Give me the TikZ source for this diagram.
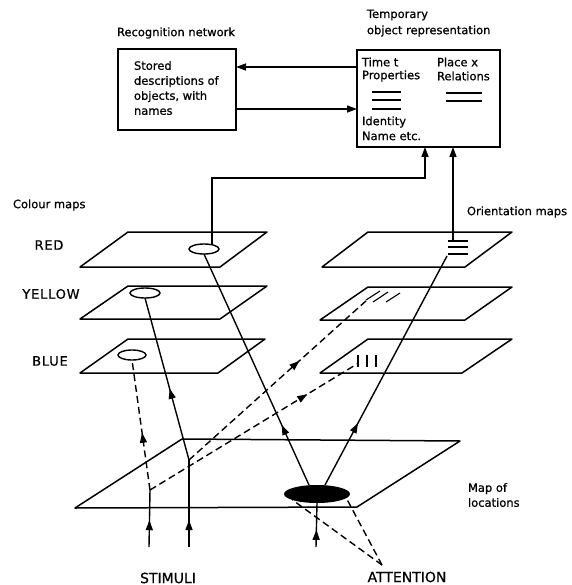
\documentclass[tikz,border=0pt]{standalone}
\usepackage{fontspec}
\setmainfont{DejaVu Sans}[FakeBold=0.7]
\usetikzlibrary{arrows.meta,shapes.geometric,decorations.markings}
\begin{document}
\begin{tikzpicture}[x=1pt,y=-1pt,
  every node/.style={inner sep=0pt, outer sep=0pt},
  txt/.style={font=\fontsize{11.5}{15}\selectfont, anchor=west},
  capsl/.style={font=\fontsize{13}{15}\selectfont\addfontfeatures{LetterSpace=6}},
  bigcaps/.style={font=\fontsize{14}{16}\selectfont},
  frame/.style={draw, line width=1.7pt},
  pl/.style={draw, line width=1.5pt, line join=round},
  conn/.style={line width=1.4pt},
  tip/.style={-{Triangle[length=10pt,width=7pt]}},
  dashline/.style={dash pattern=on 7pt off 4pt},
  midarr/.style={postaction={decorate, decoration={markings,
     mark=at position #1 with {\arrow{Triangle[length=10pt,width=7pt]}}}}},
  spot/.style={ellipse, draw, line width=1.4pt, minimum width=30pt, minimum height=10pt},
  tick/.style={line width=1.1pt}
]
\useasboundingbox (0,0) rectangle (571,585);

% ---------- boxes ----------
\node[txt] (recl) at (117,33) {Recognition network};
\node[frame, minimum width=118pt, minimum height=81pt] (rec) at (177,89.5) {};
\node[txt, align=left] (rect) at (134,88) {Stored\\descriptions of\\objects, with\\names};

\node[txt] (tmpl1) at (367,15) {Temporary};
\node[txt] (tmpl2) at (367,31) {object representation};
\node[frame, minimum width=143pt, minimum height=97pt] (temp) at (428.5,98.5) {};
\node[txt] (t1) at (362,62) {Time t};
\node[txt] (t2) at (362,76) {Properties};
\node[txt] (t3) at (437,62) {Place x};
\node[txt] (t4) at (437,76) {Relations};
\node[txt] (t5) at (362,122) {Identity};
\node[txt] (t6) at (362,136) {Name etc.};
\draw[tick] (372,92) -- (401,92) (372,100) -- (401,100) (372,109) -- (401,109);
\draw[tick] (446,93) -- (482,93) (446,101) -- (482,101);

\coordinate (ya) at (0,67);
\coordinate (yb) at (0,109);
\draw[conn, tip] (temp.west |- ya) -- (rec.east |- ya);
\draw[conn, tip] (rec.east |- yb) -- (temp.west |- yb);

% ---------- labels ----------
\node[txt] (cm) at (13,205) {Colour maps};
\node[capsl] (lred) at (49,245) {RED};
\node[capsl] (lyel) at (51,294) {YELLOW};
\node[capsl] (lblu) at (50,361) {BLUE};
\node[txt] (om) at (467,212) {Orientation maps};
\node[txt, align=left] (ml) at (468,495) {Map of\\locations};
\node[bigcaps] (stim) at (168,578) {STIMULI};
\node[bigcaps] (attn) at (407,577) {ATTENTION};

% ---------- colour maps ----------
\draw[pl] (80,267) -- (220,267) -- (267,232) -- (128,232) -- cycle;
\draw[pl] (80,319) -- (220,319) -- (267,286) -- (128,286) -- cycle;
\draw[pl] (80,373) -- (218,373) -- (265,339) -- (128,339) -- cycle;

% ---------- orientation maps ----------
\draw[pl] (322,267) -- (465,267) -- (512,232) -- (368,232) -- cycle;
\draw[pl] (320,320) -- (465,320) -- (512,287) -- (368,287) -- cycle;
\draw[pl] (320,373) -- (462,373) -- (512,339) -- (368,339) -- cycle;

% ---------- map of locations ----------
\draw[pl] (75,508) -- (357,507) -- (460,441) -- (182,439) -- cycle;

% ---------- feature spots ----------
\node[spot] (redell) at (204,249) {};
\node[spot] (yelell) at (145,293) {};
\node[spot, minimum width=28pt] (bluell) at (132,355) {};
\node[ellipse, fill=black, minimum width=66pt, minimum height=18pt] (blk) at (317,494) {};

\draw[tick] (448,241) -- (468,241) (448,247) -- (468,247) (448,254) -- (468,254);
\draw[tick] (366,300) -- (380,291) (373,302) -- (388,292) (386,302) -- (400,293);
\draw[tick] (358,355) -- (358,367) (367,355) -- (367,367) (376,355) -- (376,367);

% ---------- coordinates ----------
\coordinate (s1) at (149,547);
\coordinate (s2) at (189,547);
\coordinate (s3) at (316,547);
\coordinate (c1) at (150,490);
\coordinate (c2) at (189,460);
\coordinate (att) at (382,565);
\coordinate (om1) at (453,241);
\coordinate (omIII) at (357,364);
\coordinate (omsl) at (367,300);
\coordinate (omtop) at (447,256);
\coordinate (bend) at (425,178);

% ---------- connectors to temporary representation ----------
\draw[conn, tip] ([xshift=8pt]redell.north) |- (bend) -- (bend |- temp.south);
\draw[conn, tip] (om1) -- (om1 |- temp.south);

% ---------- stimuli ----------
\draw[conn, midarr=0.47] (s1) -- (c1);
\draw[conn, dashline, midarr=0.44] (c1) -- (bluell.south);
\draw[conn, dashline, midarr=0.76] (c1) -- (omIII);
\draw[conn, midarr=0.31] (s2) -- (c2);
\draw[conn, midarr=0.44] (c2) -- (yelell.south);
\draw[conn, dashline, midarr=0.62] (c2) -- (omsl);
\draw[conn, midarr=0.39] (s3) -- (blk.south);

% ---------- attention ----------
\draw[conn, midarr=0.26] ([xshift=-8pt]blk.north) -- (redell.south);
\draw[conn, midarr=0.27] ([xshift=8pt]blk.north) -- (omtop);
\draw[conn, dashline] (att) -- (blk.-166);
\draw[conn, dashline] (att) -- (blk.-8);
\end{tikzpicture}
\end{document}
